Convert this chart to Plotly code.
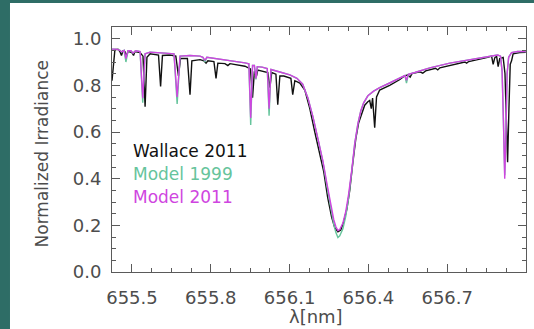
import plotly.graph_objects as go

# --- Wallace 2011 observed spectrum (wavelength nm, normalized irradiance)
wallace_wl = [
    655.424, 655.430, 655.435, 655.447, 655.454, 655.460, 655.466, 655.473,
    655.479, 655.485, 655.500, 655.506, 655.511, 655.531, 655.542, 655.550,
    655.557, 655.569, 655.601, 655.609, 655.616, 655.645, 655.667, 655.677,
    655.685, 655.711, 655.721, 655.728, 655.759, 655.774, 655.782, 655.789,
    655.812, 655.820, 655.827, 655.854, 655.865, 655.873, 655.930, 655.951,
    655.959, 655.966, 655.974, 655.979, 656.006, 656.017, 656.025, 656.032,
    656.048, 656.055, 656.063, 656.078, 656.105, 656.112, 656.120, 656.139,
    656.158, 656.177, 656.196, 656.215, 656.230, 656.245, 656.260, 656.272,
    656.284, 656.295, 656.306, 656.318, 656.329, 656.340, 656.352, 656.363,
    656.375, 656.386, 656.398, 656.405, 656.411, 656.416, 656.424, 656.431,
    656.443, 656.481, 656.520, 656.535, 656.550, 656.559, 656.566, 656.596,
    656.607, 656.618, 656.656, 656.664, 656.672, 656.767, 656.774, 656.782,
    656.854, 656.869, 656.875, 656.881, 656.888, 656.894, 656.900, 656.913,
    656.920, 656.925, 656.930, 656.935, 656.940, 656.945, 656.951, 656.976,
    656.999,
]
wallace_val = [
    0.820, 0.900, 0.952, 0.955, 0.945, 0.928, 0.948, 0.945,
    0.925, 0.946, 0.940, 0.928, 0.945, 0.940, 0.925, 0.708,
    0.920, 0.935, 0.930, 0.795, 0.928, 0.930, 0.925, 0.840,
    0.915, 0.915, 0.760, 0.905, 0.910, 0.905, 0.895, 0.905,
    0.902, 0.830, 0.895, 0.893, 0.885, 0.893, 0.882, 0.870,
    0.747, 0.860, 0.840, 0.865, 0.860, 0.855, 0.790, 0.855,
    0.848, 0.717, 0.840, 0.840, 0.830, 0.760, 0.820, 0.810,
    0.780, 0.700, 0.600, 0.500, 0.430, 0.320, 0.235, 0.190,
    0.172, 0.180, 0.215, 0.270, 0.350, 0.460, 0.570, 0.640,
    0.680, 0.715, 0.730, 0.735, 0.700, 0.745, 0.618, 0.750,
    0.780, 0.800, 0.825, 0.838, 0.845, 0.835, 0.850, 0.858,
    0.852, 0.862, 0.873, 0.866, 0.875, 0.900, 0.895, 0.902,
    0.920, 0.925, 0.890, 0.918, 0.925, 0.880, 0.915, 0.920,
    0.850, 0.620, 0.470, 0.700, 0.890, 0.905, 0.935, 0.940,
    0.942,
]

# --- synthetic spectra: shared wavelength grid for both models
model_wl = [
    655.424, 655.439, 655.454, 655.461, 655.470, 655.477, 655.485, 655.496,
    655.504, 655.515, 655.531, 655.541, 655.550, 655.569, 655.626, 655.660,
    655.672, 655.683, 655.721, 655.759, 655.770, 655.778, 655.785, 655.816,
    655.873, 655.930, 655.945, 655.952, 655.959, 655.966, 655.972, 655.977,
    655.995, 656.015, 656.022, 656.029, 656.063, 656.101, 656.128, 656.150,
    656.170, 656.189, 656.208, 656.227, 656.242, 656.257, 656.268, 656.276,
    656.284, 656.291, 656.303, 656.314, 656.325, 656.337, 656.348, 656.360,
    656.371, 656.382, 656.398, 656.420, 656.443, 656.481, 656.520, 656.539,
    656.545, 656.552, 656.577, 656.634, 656.710, 656.786, 656.862, 656.892,
    656.903, 656.909, 656.914, 656.919, 656.924, 656.928, 656.934, 656.945,
    656.968, 656.999,
]
model1999_val = [
    0.955, 0.955, 0.950, 0.943, 0.950, 0.900, 0.948, 0.948,
    0.938, 0.948, 0.945, 0.725, 0.935, 0.942, 0.938, 0.935,
    0.720, 0.925, 0.928, 0.925, 0.920, 0.900, 0.920, 0.915,
    0.908, 0.896, 0.892, 0.630, 0.885, 0.885, 0.825, 0.880,
    0.878, 0.872, 0.670, 0.868, 0.857, 0.845, 0.830, 0.805,
    0.745, 0.665, 0.570, 0.472, 0.370, 0.265, 0.205, 0.170,
    0.148, 0.155, 0.185, 0.240, 0.320, 0.435, 0.550, 0.635,
    0.690, 0.725, 0.755, 0.775, 0.790, 0.810, 0.830, 0.842,
    0.810, 0.847, 0.855, 0.875, 0.895, 0.910, 0.925, 0.930,
    0.925, 0.860, 0.650, 0.415, 0.620, 0.850, 0.920, 0.940,
    0.945, 0.945,
]
model2011_val = [
    0.955, 0.955, 0.950, 0.943, 0.950, 0.915, 0.948, 0.948,
    0.938, 0.948, 0.945, 0.745, 0.935, 0.942, 0.938, 0.935,
    0.750, 0.925, 0.928, 0.925, 0.920, 0.908, 0.920, 0.915,
    0.908, 0.896, 0.892, 0.660, 0.885, 0.885, 0.830, 0.880,
    0.878, 0.872, 0.700, 0.868, 0.857, 0.845, 0.830, 0.805,
    0.745, 0.665, 0.570, 0.475, 0.380, 0.285, 0.225, 0.195,
    0.178, 0.182, 0.210, 0.260, 0.335, 0.440, 0.550, 0.635,
    0.690, 0.725, 0.755, 0.775, 0.790, 0.810, 0.830, 0.842,
    0.822, 0.847, 0.855, 0.875, 0.895, 0.910, 0.925, 0.930,
    0.925, 0.860, 0.650, 0.400, 0.620, 0.850, 0.920, 0.940,
    0.945, 0.945,
]

series_names = ["Wallace 2011", "Model 1999", "Model 2011"]
series_colors = ["#111111", "#66c49c", "#cf45e0"]

x_ticks = [655.5, 655.8, 656.1, 656.4, 656.7]
y_ticks = [0.0, 0.2, 0.4, 0.6, 0.8, 1.0]

AXIS_GREY = "#5a5a5a"
TEXT_GREY = "#4d4d4d"
FONT = "DejaVu Sans"

fig = go.Figure()
for wl, val, name, col in [
    (wallace_wl, wallace_val, series_names[0], series_colors[0]),
    (model_wl, model1999_val, series_names[1], series_colors[1]),
    (model_wl, model2011_val, series_names[2], series_colors[2]),
]:
    fig.add_trace(go.Scatter(x=wl, y=val, mode="lines", name=name,
                             line=dict(color=col, width=1.4)))

axis_common = dict(
    showgrid=False, zeroline=False, showline=True, linecolor=AXIS_GREY,
    linewidth=1, mirror="ticks", ticks="inside", tickcolor=AXIS_GREY,
    tickwidth=1, ticklen=8,
    tickfont=dict(family=FONT, size=18, color=TEXT_GREY),
)
fig.update_xaxes(range=[655.424, 657.0], tickvals=x_ticks,
                 ticktext=[f"{v:.1f}" for v in x_ticks],
                 minor=dict(dtick=0.075, tick0=655.5, ticklen=4, ticks="inside",
                            tickcolor=AXIS_GREY),
                 ticklabelstandoff=9, **axis_common)
fig.update_yaxes(range=[0, 1.05], tickvals=y_ticks,
                 ticktext=[f"{v:.1f}" for v in y_ticks],
                 minor=dict(dtick=0.05, tick0=0, ticklen=4, ticks="inside",
                            tickcolor=AXIS_GREY),
                 ticklabelstandoff=6, **axis_common)

# Legend drawn as coloured text inside the frame
for i, (name, col) in enumerate(zip(series_names, series_colors)):
    fig.add_annotation(text=name, x=0.045, y=0.494 - 0.094 * i,
                       xref="paper", yref="paper", xanchor="left",
                       yanchor="middle", showarrow=False,
                       font=dict(family=FONT, size=17, color=col))

fig.add_annotation(text="Normalized Irradiance", textangle=-90,
                   x=-0.169, y=0.48, xref="paper", yref="paper",
                   xanchor="center", yanchor="middle", showarrow=False,
                   font=dict(family=FONT, size=17, color=TEXT_GREY))
fig.add_annotation(text="λ[nm]", x=0.493, y=-0.18, xref="paper", yref="paper",
                   xanchor="center", yanchor="middle", showarrow=False,
                   font=dict(family=FONT, size=18, color=TEXT_GREY))

# Teal page frame along the left and top edges
TEAL = "#2e6d66"
fig.add_shape(type="rect", xref="paper", yref="paper", layer="below",
              x0=-0.275, x1=-0.2464, y0=-0.25, y1=1.2,
              fillcolor=TEAL, line=dict(width=0))
fig.add_shape(type="rect", xref="paper", yref="paper", layer="below",
              x0=-0.275, x1=1.1, y0=1.098, y1=1.2,
              fillcolor=TEAL, line=dict(width=0))

fig.update_layout(
    width=534, height=329, showlegend=False,
    margin=dict(l=112, r=8, t=27, b=57),
    paper_bgcolor="white", plot_bgcolor="white",
)

fig.write_html("out.html")
